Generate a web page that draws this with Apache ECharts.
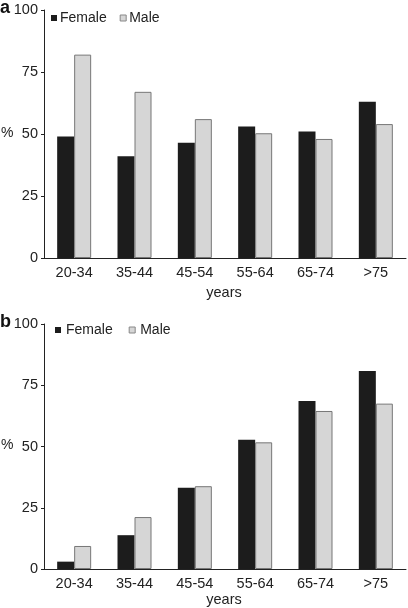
<!DOCTYPE html>
<html><head><meta charset="utf-8">
<script src="https://cdn.jsdelivr.net/npm/echarts@6/dist/echarts.min.js"></script>
<style>html,body{margin:0;padding:0;background:#fff}#c{width:408px;height:608px}</style>
</head><body><div id="c"></div>
<script>
const categories = ['20-34', '35-44', '45-54', '55-64', '65-74', '>75'];
const yTicks = [0, 25, 50, 75, 100];
const femaleA = [49, 41, 46.5, 53, 51, 63];
const maleA = [82, 67, 56, 50.3, 48, 54];
const femaleB = [3, 13.8, 33.2, 52.8, 68.6, 80.8];
const maleB = [9.4, 21.2, 33.8, 51.7, 64.5, 67.5];

const FONT = '"Liberation Sans", Arial, sans-serif';
const TXT = '#222';
const FEMALE = '#1c1c1c';
const MALE = '#d6d6d6';
const chart = echarts.init(document.getElementById('c'), null, {renderer: 'canvas'});

function yAx(gi) {
  return {
    type: 'value', gridIndex: gi, min: yTicks[0], max: yTicks[yTicks.length - 1], interval: 25,
    axisLine: {show: true, lineStyle: {color: '#222', width: 1}},
    axisTick: {show: true, length: 3, lineStyle: {color: '#222'}},
    axisLabel: {fontFamily: FONT, fontSize: 14.5, color: TXT, margin: 6},
    splitLine: {show: false}
  };
}
function xAx(gi) {
  return {
    type: 'category', gridIndex: gi, data: categories,
    axisLine: {show: true, lineStyle: {color: '#222', width: 1}},
    axisTick: {show: false},
    axisLabel: {fontFamily: FONT, fontSize: 14.5, color: TXT, margin: 7}
  };
}
function bars(name, data, gi, color, border) {
  return {
    name: name, type: 'bar', xAxisIndex: gi, yAxisIndex: gi, data: data,
    barWidth: 17, barGap: '0%',
    itemStyle: {color: color, borderColor: border, borderWidth: border ? 1 : 0},
    silent: true, animation: false
  };
}
chart.setOption({
  animation: false,
  grid: [
    {left: 44, top: 10, width: 362, height: 248},
    {left: 44, top: 324, width: 362, height: 245}
  ],
  xAxis: [xAx(0), xAx(1)],
  yAxis: [yAx(0), yAx(1)],
  legend: [
    {left: 51, top: 11, padding: 0, itemWidth: 6, itemHeight: 6, itemGap: 13, icon: 'rect',
     textStyle: {fontFamily: FONT, fontSize: 14, color: TXT, padding: [0, 0, 0, -2]},
     data: [{name: 'Female A', itemStyle: {color: FEMALE}}, {name: 'Male A', itemStyle: {color: MALE, borderColor: '#888', borderWidth: 1}}],
     formatter: n => n.replace(' A', '')},
    {left: 55, top: 323, padding: 0, itemWidth: 6, itemHeight: 6, itemGap: 16, icon: 'rect',
     textStyle: {fontFamily: FONT, fontSize: 14, color: TXT},
     data: [{name: 'Female B', itemStyle: {color: FEMALE}}, {name: 'Male B', itemStyle: {color: MALE, borderColor: '#888', borderWidth: 1}}],
     formatter: n => n.replace(' B', '')}
  ],
  series: [
    bars('Female A', femaleA, 0, FEMALE, null),
    bars('Male A', maleA, 0, MALE, '#777'),
    bars('Female B', femaleB, 1, FEMALE, null),
    bars('Male B', maleB, 1, MALE, '#777')
  ],
  graphic: [
    {type: 'text', left: 0, top: -1, style: {text: 'a', font: 'bold 18px ' + FONT, fill: '#111'}},
    {type: 'text', left: 0, top: 313, style: {text: 'b', font: 'bold 18px ' + FONT, fill: '#111'}},
    {type: 'text', left: 1, top: 126, style: {text: '%', font: '14px ' + FONT, fill: TXT}},
    {type: 'text', left: 1, top: 438, style: {text: '%', font: '14px ' + FONT, fill: TXT}},
    {type: 'text', x: 224, y: 293, style: {text: 'years', font: '14.5px ' + FONT, fill: TXT, align: 'center', verticalAlign: 'middle'}},
    {type: 'text', x: 224, y: 600, style: {text: 'years', font: '14.5px ' + FONT, fill: TXT, align: 'center', verticalAlign: 'middle'}}
  ]
});
</script></body></html>
